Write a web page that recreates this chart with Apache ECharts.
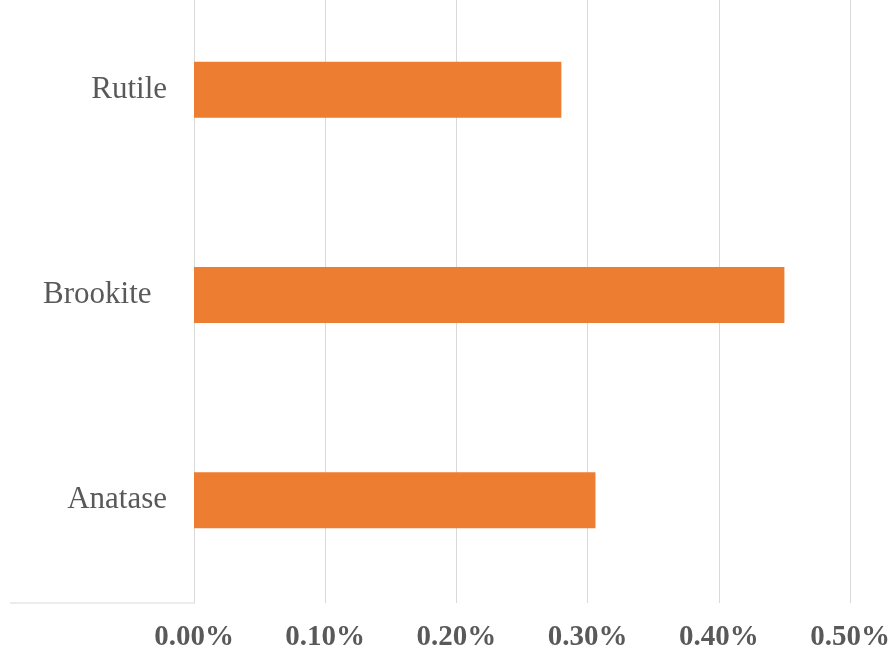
<!DOCTYPE html>
<html lang="en">
<head>
  <meta charset="UTF-8">
  <title>TiO2 phases</title>
  <style>
    * { margin: 0; padding: 0; }
    body { background: #fff; }
    #chart { width: 893px; height: 656px; }
  </style>
</head>
<body>
  <div id="chart"></div>
  <script src="https://cdn.jsdelivr.net/npm/echarts@6/dist/echarts.min.js"></script>
  <script>
    // data, bottom to top
    const phases = ['Anatase', 'Brookite  ', 'Rutile'];
    const values = [0.00306, 0.0045, 0.0028];
    const ticks = [0, 0.001, 0.002, 0.003, 0.004, 0.005];

    const gridLeft = 194, gridBottom = 53;
    const gray = '#595959';
    const lineColor = '#d9d9d9';

    const chart = echarts.init(document.getElementById('chart'));
    chart.setOption({
      animation: false,
      grid: { left: gridLeft, right: 43, top: -13, bottom: gridBottom, outerBoundsMode: 'none' },
      xAxis: {
        type: 'value',
        min: ticks[0],
        max: ticks[ticks.length - 1],
        interval: ticks[1] - ticks[0],
        axisLine: { show: false },
        axisTick: { show: false },
        splitLine: { lineStyle: { color: lineColor, width: 1 } },
        axisLabel: {
          margin: 20,
          color: gray,
          fontFamily: '"Liberation Serif", "Times New Roman", serif',
          fontWeight: 'bold',
          fontSize: 29,
          formatter: v => (v * 100).toFixed(2) + '%'
        }
      },
      yAxis: {
        type: 'category',
        data: phases,
        axisLine: { show: true, lineStyle: { color: lineColor } },
        axisTick: { show: false },
        axisLabel: {
          margin: 27,
          color: gray,
          fontFamily: '"Liberation Serif", "Times New Roman", serif',
          fontSize: 31
        }
      },
      graphic: [{
        type: 'line',
        shape: { x1: 10, y1: 656 - gridBottom, x2: gridLeft, y2: 656 - gridBottom },
        style: { stroke: lineColor, lineWidth: 1 }
      }],
      series: [{
        type: 'bar',
        data: values,
        barWidth: 56,
        itemStyle: { color: '#ED7D31' }
      }]
    });
  </script>
</body>
</html>
